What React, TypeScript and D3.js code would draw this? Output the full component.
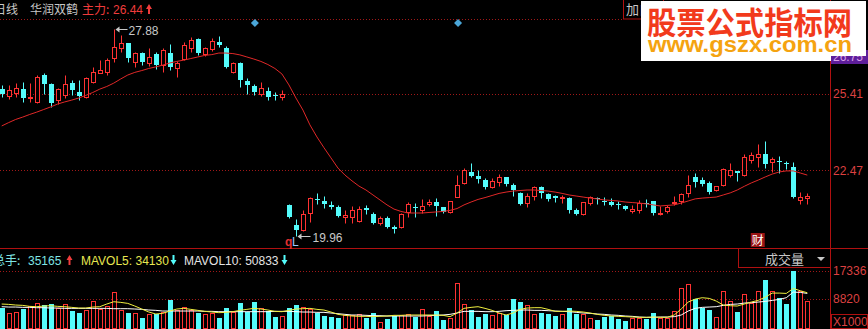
import React from 'react';
import * as d3 from 'd3';

const W = 868;
const H = 329;

// ---- price data (daily candles) ----
const opens = [25.58,25.32,25.43,25.58,25.24,25.09,26.12,25.78,25.16,25.35,25.81,25.47,25.28,25.85,26.20,26.24,26.77,27.15,27.34,26.62,26.96,26.58,26.92,26.50,26.96,26.39,26.73,27.15,27.50,26.92,27.11,27.38,27.15,26.24,26.58,25.89,25.70,25.39,25.51,25.35,25.28,
  21.15,20.38,20.19,20.84,21.38,21.30,21.15,21.07,20.69,20.69,20.53,21.03,20.80,20.46,20.65,20.30,20.30,20.88,21.07,20.96,21.19,21.26,21.07,20.88,21.45,21.99,22.41,22.26,22.10,21.84,22.03,22.22,21.91,21.61,21.22,21.49,21.84,21.57,21.49,21.41,21.41,20.96,20.80,21.22,21.41,21.30,21.26,21.19,21.11,20.92,20.96,21.22,21.30,20.80,20.92,21.22,21.30,21.61,22.22,22.10,21.99,21.72,21.91,22.29,22.45,22.29,22.87,22.98,23.10,22.79,22.83,22.75,22.60,21.34,21.41];
const highs = [25.74,25.74,25.81,25.85,25.81,26.12,26.20,25.81,25.62,26.12,25.93,25.93,26.04,26.43,26.69,26.77,27.88,27.65,27.34,27.00,27.00,27.15,27.00,27.15,27.31,26.66,27.38,27.57,27.53,27.19,27.53,27.61,27.23,26.62,26.62,26.01,25.78,25.85,25.66,25.47,25.55,
  21.19,20.61,20.96,21.45,21.61,21.49,21.30,21.15,20.96,21.11,21.11,21.15,20.88,20.73,20.73,20.38,20.84,21.26,21.22,21.38,21.38,21.41,21.07,21.30,22.29,22.56,22.75,22.49,22.18,22.18,22.33,22.22,21.99,21.64,21.61,21.88,21.88,21.61,21.53,21.53,21.45,21.03,21.26,21.49,21.45,21.45,21.41,21.30,21.15,21.15,21.34,21.38,21.30,21.11,21.15,21.49,21.61,22.29,22.37,22.22,22.07,21.88,22.56,22.75,22.45,23.10,23.17,23.48,23.60,22.98,23.02,22.83,22.79,21.64,21.61];
const lows = [25.28,25.20,25.28,25.09,25.09,25.05,25.39,24.90,25.01,25.24,25.35,25.16,25.24,25.81,26.20,26.12,26.62,27.00,26.62,26.43,26.50,26.46,26.35,26.24,26.31,26.04,26.69,27.00,26.89,26.85,27.04,27.19,26.39,26.20,25.66,25.39,25.35,25.32,25.16,25.16,25.16,
  20.65,19.96,20.15,20.50,21.19,21.03,21.00,20.69,20.46,20.46,20.50,20.80,20.42,20.38,20.27,20.08,20.27,20.69,20.69,20.84,21.11,20.73,20.84,20.84,21.45,21.95,22.22,21.99,21.76,21.80,21.88,21.88,21.49,21.15,21.07,21.34,21.41,21.30,21.26,21.22,20.84,20.76,20.76,21.15,21.19,21.15,21.11,21.00,20.96,20.84,20.84,21.07,20.76,20.76,20.84,21.15,21.19,21.45,21.84,21.88,21.57,21.68,21.88,22.22,22.07,22.26,22.75,22.60,22.56,22.41,22.37,22.52,21.41,21.19,21.19];
const closes = [25.39,25.55,25.62,25.24,25.28,26.04,25.78,25.05,25.58,25.78,25.55,25.32,26.01,26.24,26.31,26.69,27.19,27.34,26.77,26.96,26.62,26.81,26.50,27.08,26.43,26.58,27.27,27.46,26.96,27.15,27.42,27.27,26.43,26.58,25.93,25.74,25.47,25.62,25.28,25.32,25.39,
  20.69,20.19,20.80,21.41,21.34,21.19,21.07,20.73,20.76,20.96,20.99,20.96,20.46,20.65,20.30,20.23,20.80,21.19,21.03,21.11,21.26,21.11,20.88,21.30,21.91,22.49,22.26,22.14,21.84,22.07,22.22,21.95,21.72,21.19,21.49,21.84,21.61,21.38,21.41,21.45,20.96,20.80,21.26,21.45,21.38,21.26,21.15,21.15,21.00,21.00,21.22,21.19,20.84,20.84,21.07,21.26,21.57,21.91,22.03,21.95,21.64,21.88,22.52,22.49,22.37,22.98,23.06,23.10,22.72,22.91,22.79,22.73,21.45,21.45,21.49];
const maLine = [24.17,24.30,24.42,24.51,24.61,24.70,24.80,24.90,25.01,25.09,25.16,25.24,25.34,25.45,25.58,25.68,25.81,25.97,26.12,26.22,26.29,26.37,26.43,26.50,26.58,26.64,26.69,26.75,26.81,26.87,26.90,26.96,26.96,26.94,26.89,26.81,26.73,26.64,26.52,26.37,26.16,
  25.74,25.24,24.78,24.21,23.75,23.34,22.95,22.56,22.29,22.07,21.87,21.72,21.53,21.34,21.15,20.99,20.90,20.84,20.84,20.84,20.86,20.88,20.90,20.94,21.01,21.15,21.26,21.36,21.43,21.51,21.59,21.64,21.68,21.70,21.72,21.72,21.70,21.68,21.64,21.59,21.53,21.49,21.45,21.41,21.38,21.34,21.32,21.30,21.26,21.24,21.22,21.19,21.15,21.11,21.13,21.15,21.22,21.30,21.38,21.41,21.43,21.45,21.53,21.61,21.72,21.86,21.99,22.10,22.22,22.33,22.41,22.45,22.45,22.37,22.29];

// ---- volume data ----
const volumes = [6000,4500,5000,5700,6700,7500,7000,7200,6000,7200,5200,4700,5500,8200,5700,6700,10800,5500,4700,4700,3000,4300,4300,5000,8500,5500,6500,5500,4700,4300,4700,3000,6000,5000,7500,5000,8000,6000,5200,3300,3700,
  6000,7000,6300,5800,4700,3700,3400,3000,4000,4000,4300,3200,4500,2000,2800,3800,4000,4200,3500,5700,3700,5200,2500,3200,13500,7200,5500,3500,4200,4000,4500,4000,8800,7800,7000,4200,4500,4300,3700,4200,6200,4200,4300,3000,2500,3500,3700,2900,2300,3000,3000,2800,4700,3000,3000,5200,12000,13300,8700,6000,5500,3300,11200,8200,5000,10300,7500,11200,14500,11200,9000,7300,17300,11200,8300];
const mavol5 = [7300,7200,7000,6900,6600,6500,6700,6800,6600,6500,6300,6100,6100,6400,6500,7300,8000,7800,7500,6700,5800,4900,4300,4500,5200,5800,6000,5700,5400,5100,4900,4700,4800,5000,5400,5700,6000,5800,5500,5100,5000,
  5400,5800,5900,6000,5700,5500,4900,4200,3900,3700,3600,3600,3500,3600,3700,3900,3900,4000,4000,4000,4000,4000,3900,3500,4600,6000,6300,6500,6000,5400,4600,4000,4600,5700,6100,6200,6200,5700,5100,5100,5200,5100,4900,4600,4200,3900,3700,3600,3500,3400,3300,3300,3400,3300,3300,4000,5800,7900,8800,9200,9000,8200,7000,6800,6700,7300,7900,8400,9400,10600,10600,10500,12000,11300,10700];
const mavol10 = [6500,6400,6400,6300,6300,6200,6200,6100,6100,6000,6000,6000,6000,6000,6000,6000,5900,5900,5900,5800,5700,5500,5400,5200,5200,5200,5200,5200,5200,5100,5100,5000,5000,5000,5000,5000,5000,5000,5000,5100,5100,
  5100,5000,4900,4900,4800,4800,4600,4400,4200,4000,4000,3900,3800,3800,3700,3700,3700,3700,3700,3700,3800,3900,4000,4200,4600,5100,5100,5100,5000,5000,5100,5300,5400,5500,5500,5400,5400,5300,5200,5100,5000,4800,4600,4500,4300,4200,4000,3900,3700,3600,3400,3300,3300,3400,3400,3500,4000,5200,6000,6300,6400,6500,6900,7200,7300,7600,7700,7900,8100,8400,8700,9200,10900,10800,10500];

// ---- axis ticks & labels ----
const priceTicks = [25.41, 22.47];
const volTicks = [17336, 8820];
const stockName = '华润双鹤';
const periodLabel = '日线';
const mainForceLabel = '主力';
const mainForceValue = '26.44';
const totalVolLabel = '总手';
const totalVol = '35165';
const mavol5Value = '34130';
const mavol10Value = '50833';
const cursorPrice = '26.75';
const eventMarkers = [36, 65];
const financeMarker = 107;

const RED = '#ff3232';
const CYAN = '#54fcfc';
const GRIDRED = '#a01818';
const FONT = 'Arial, "Liberation Sans", "Noto Sans CJK SC", sans-serif';
const CJK = '"Noto Sans CJK SC", sans-serif';

function UpArrow({ cx, top, bottom, color }: any) {
  return <path d={`M${cx},${top} L${cx + 3},${top + 5} L${cx + 1},${top + 5} L${cx + 1},${bottom} L${cx - 1},${bottom} L${cx - 1},${top + 5} L${cx - 3},${top + 5} Z`} fill={color} />;
}
function DownArrow({ cx, top, bottom, color }: any) {
  return <path d={`M${cx},${bottom} L${cx + 3},${bottom - 5} L${cx + 1},${bottom - 5} L${cx + 1},${top} L${cx - 1},${top} L${cx - 1},${bottom - 5} L${cx - 3},${bottom - 5} Z`} fill={color} />;
}

export default function App() {
  const n = closes.length;
  const x = d3.scaleLinear().domain([0, n - 1]).range([1.7, 807.3]);
  const y = d3.scaleLinear().domain([27.88, 19.96]).range([29, 236]);
  const yv = d3.scaleLinear().domain([0, 17336]).range([328.3, 270.7]);
  const px = (i: number) => Math.round(x(i));

  const maPath = d3.line<number>().x((_, i) => x(i)).y((d) => y(d))(maLine) || '';
  const mv5Path = d3.line<number>().x((_, i) => x(i)).y((d) => yv(d))(mavol5) || '';
  const mv10Path = d3.line<number>().x((_, i) => x(i)).y((d) => yv(d))(mavol10) || '';

  const hiIdx = d3.maxIndex(highs);
  const loIdx = d3.minIndex(lows);
  const hx = px(hiIdx) + 1.5;
  const hy = Math.round(y(highs[hiIdx])) + 0.5;
  const lx = px(loIdx) + 1.5;
  const ly = Math.round(y(lows[loIdx])) + 0.5;

  const candles = closes.map((c, i) => {
    const o = opens[i];
    const up = c >= o;
    const cx = px(i) + 0.5;
    const t = Math.round(y(Math.max(o, c)));
    const b = Math.round(y(Math.min(o, c)));
    const yh = Math.round(y(highs[i])) + 0.5;
    const yl = Math.round(y(lows[i])) + 0.5;
    if (up) {
      const h = Math.max(b - t, 0);
      return (
        <g key={i}>
          <line x1={cx} x2={cx} y1={yh} y2={t + 0.5} stroke={RED} />
          <line x1={cx} x2={cx} y1={b + 0.5} y2={yl} stroke={RED} />
          {h >= 1 ? (
            <rect x={cx - 2} y={t + 0.5} width={4} height={h} fill="#000" stroke={RED} />
          ) : (
            <line x1={cx - 2.5} x2={cx + 2.5} y1={t + 0.5} y2={t + 0.5} stroke={RED} />
          )}
        </g>
      );
    }
    const h = Math.max(b - t, 1);
    return (
      <g key={i}>
        <line x1={cx} x2={cx} y1={yh} y2={yl} stroke={CYAN} />
        <rect x={cx - 2.5} y={t} width={5} height={h} fill={CYAN} />
      </g>
    );
  });

  const vbars = volumes.map((v, i) => {
    const up = closes[i] >= opens[i];
    const cx = px(i) + 0.5;
    const t = Math.round(yv(v));
    if (up) {
      return <rect key={i} x={cx - 2} y={t + 0.5} width={4} height={328.5 - t - 0.5} fill="#000" stroke={RED} />;
    }
    return <rect key={i} x={cx - 2.5} y={t} width={5} height={H - t} fill={CYAN} />;
  });

  return (
    <div style={{ position: 'absolute', left: 0, top: 0, width: W, height: H, background: '#000' }}>
      <svg width={W} height={H} viewBox={`0 0 ${W} ${H}`} style={{ display: 'block', fontFamily: FONT }}>
        <defs>
          <clipPath id="plot"><rect x={0} y={0} width={830} height={H} /></clipPath>
          <clipPath id="purple"><rect x={831} y={50} width={37} height={14} /></clipPath>
        </defs>
        <rect x={0} y={0} width={W} height={H} fill="#000" />

        {/* top dotted border */}
        <line x1={0} x2={623} y1={19.5} y2={19.5} stroke={GRIDRED} strokeDasharray="1,2" />

        {/* price grid */}
        {priceTicks.map((t) => (
          <g key={t}>
            <line x1={0} x2={830} y1={Math.round(y(t)) + 0.5} y2={Math.round(y(t)) + 0.5} stroke={GRIDRED} strokeDasharray="1,2" />
            <text x={833} y={y(t) + 4.5} fontSize={12} fill="#dc4040">{t.toFixed(2)}</text>
          </g>
        ))}

        {/* volume grid */}
        {volTicks.map((t) => (
          <g key={t}>
            <line x1={0} x2={830} y1={Math.round(yv(t)) + 0.5} y2={Math.round(yv(t)) + 0.5} stroke={GRIDRED} strokeDasharray="1,2" />
            <text x={833} y={yv(t) + 4.5} fontSize={12} fill="#dc4040">{t}</text>
          </g>
        ))}

        <g clipPath="url(#plot)">
          {candles}
          <path d={maPath} fill="none" stroke="#e02828" strokeWidth={1} />
          {vbars}
          <path d={mv10Path} fill="none" stroke="#ffffff" strokeWidth={1} />
          <path d={mv5Path} fill="none" stroke="#f0f040" strokeWidth={1} />
        </g>

        {/* panel separators & right axis */}
        <line x1={0} x2={W} y1={248.5} y2={248.5} stroke="#b01010" />
        <line x1={830.5} x2={830.5} y1={0} y2={H} stroke="#b01010" />

        {/* header */}
        <text x={-6} y={14} fontSize={12} fill="#c8c8c8" fontFamily={CJK}>{periodLabel}</text>
        <text x={30} y={14} fontSize={12} fill="#c8c8c8" fontFamily={CJK}>{stockName}</text>
        <text x={82} y={14} fontSize={12} fill="#f03c3c" fontFamily={CJK}>{mainForceLabel}:</text>
        <text x={113} y={14} fontSize={12} fill="#f03c3c">{mainForceValue}</text>
        <UpArrow cx={149} top={4} bottom={14} color="#f03c3c" />

        {/* event diamonds */}
        {eventMarkers.map((i) => {
          const cx = x(i) + 1;
          return <path key={i} d={`M${cx},19 L${cx + 4},23 L${cx},27 L${cx - 4},23 Z`} fill="#4aa6d8" />;
        })}

        {/* high marker */}
        <path d={`M${hx},${hy} L${hx + 4},${hy - 3} L${hx + 4},${hy + 3} Z`} fill="#c8c8c8" />
        <line x1={hx + 3} x2={hx + 12} y1={hy} y2={hy} stroke="#c8c8c8" />
        <text x={hx + 13} y={hy + 5} fontSize={12} fill="#c8c8c8">{highs[hiIdx].toFixed(2)}</text>

        {/* low marker */}
        <path d={`M${lx},${ly} L${lx + 4},${ly - 3} L${lx + 4},${ly + 3} Z`} fill="#c8c8c8" />
        <line x1={lx + 3} x2={lx + 13} y1={ly} y2={ly} stroke="#c8c8c8" />
        <text x={lx + 15} y={ly + 5} fontSize={12} fill="#c8c8c8">{lows[loIdx].toFixed(2)}</text>
        <text x={285} y={246} fontSize={12} fontWeight="bold" fill="#e03030">q</text>
        <text x={292} y={246} fontSize={12} fill="#9fc8ff">L</text>

        {/* finance badge */}
        <rect x={x(financeMarker) - 0.5} y={233} width={14} height={14} fill="#9a1414" />
        <text x={x(financeMarker) + 0.5} y={245} fontSize={12} fill="#ffffff" fontFamily={CJK}>财</text>

        {/* volume header */}
        <text x={-7} y={265} fontSize={12} fill="#7ee4e4" fontFamily={CJK}>{totalVolLabel}:</text>
        <text x={28} y={265} fontSize={12} fill="#7ee4e4">{totalVol}</text>
        <UpArrow cx={69.5} top={255} bottom={265} color="#f03c3c" />
        <text x={81} y={265} fontSize={12} fill="#e8e850">MAVOL5: {mavol5Value}</text>
        <DownArrow cx={173.5} top={255} bottom={265} color={CYAN} />
        <text x={184} y={265} fontSize={12} fill="#e4e4e4">MAVOL10: {mavol10Value}</text>
        <DownArrow cx={284.5} top={255} bottom={265} color={CYAN} />

        {/* 成交量 selector */}
        <rect x={738.5} y={248.5} width={92} height={19} fill="#000" stroke="#b01010" />
        <text x={765} y={264} fontSize={13} fill="#c8c8c8" fontFamily={CJK}>成交量</text>
        <path d="M817,257 L825,257 L821,261 Z" fill="#c8c8c8" />

        {/* X1000 box */}
        <rect x={831.5} y={314.5} width={36} height={14} fill="none" stroke="#b01010" />
        <text x={833} y={326} fontSize={12} fill="#dc4040">X1000</text>

        {/* 加自选 button */}
        <rect x={623.5} y={-1} width={40} height={20} fill="#000" stroke="#b01010" />
        <text x={626} y={14} fontSize={13} fill="#c8c8c8" fontFamily={CJK}>加自选</text>

        {/* purple axis tag (mostly hidden by watermark) */}
        <rect x={831} y={50} width={37} height={14} fill="#5e1e9a" />
        <text x={833} y={61} fontSize={12} fill="#d8a0e8" clipPath="url(#purple)">{cursorPrice}</text>

        {/* watermark */}
        <rect x={641} y={1} width={225} height={55} fill="#ffffff" />
        <rect x={641} y={1} width={190} height={60} fill="#ffffff" />
        <text x={647} y={34} fontSize={31} fontWeight="bold" fill="#f23a1c" fontFamily={CJK} textLength={205} lengthAdjust="spacingAndGlyphs">股票公式指标网</text>
        <text x={648} y={52} fontSize={22} fontWeight="bold" fill="#f5a310" textLength={204} lengthAdjust="spacingAndGlyphs">www.gszx.com.cn</text>
      </svg>
    </div>
  );
}
